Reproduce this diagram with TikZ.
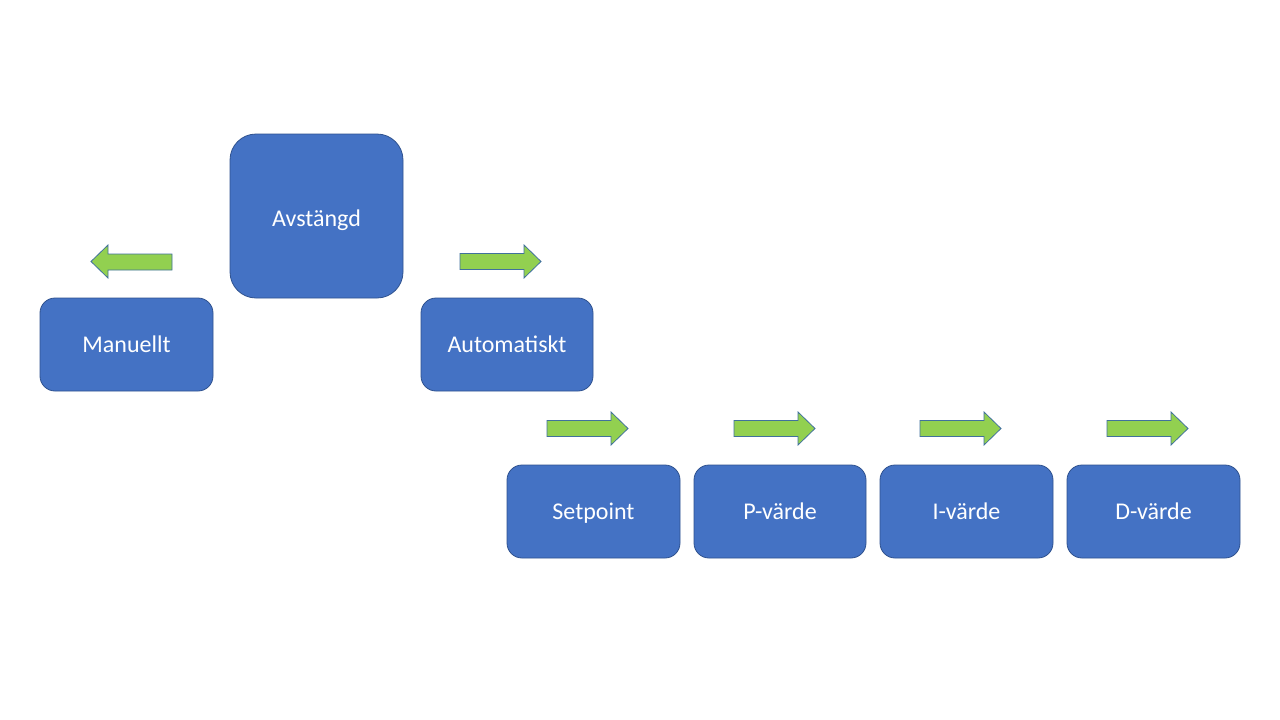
\documentclass[tikz,border=0pt]{standalone}
\usepackage{fontspec}
\setmainfont{Carlito}
\definecolor{boxfill}{HTML}{4472C4}
\definecolor{boxline}{HTML}{2F528F}
\definecolor{arrfill}{HTML}{92D050}
\definecolor{arrline}{HTML}{41719C}
\begin{document}
\begin{tikzpicture}[x=1pt,y=-1pt,
  blk/.style={draw=boxline, fill=boxfill, line width=0.8pt, rounded corners=15pt},
  lbl/.style={text=white, anchor=base, inner sep=0pt, font=\fontsize{24}{28}\selectfont},
  rarr/.style={draw=arrline, fill=arrfill, line width=0.8pt}]
\useasboundingbox (0,0) rectangle (1280,720);
\fill[white] (0,0) rectangle (1280,720);
% boxes
\draw[blk, rounded corners=26pt] (230,134) rectangle (403,298);
\node[lbl] (avst) at (316.5,226) {Avstängd};
\draw[blk] (40,298) rectangle (213,391);
\node[lbl] (man) at (126.5,352.5) {Manuellt};
\draw[blk] (421,298) rectangle (593,391);
\node[lbl] (auto) at (507,352.5) {Automatiskt};
\draw[blk] (507,465) rectangle (680,558);
\node[lbl] (set) at (593.5,519.5) {Setpoint};
\draw[blk] (694,465) rectangle (866,558);
\node[lbl] (pv) at (780,519.5) {P-värde};
\draw[blk] (880,465) rectangle (1053,558);
\node[lbl] (iv) at (966.5,519.5) {I-värde};
\draw[blk] (1067,465) rectangle (1240,558);
\node[lbl] (dv) at (1153.5,519.5) {D-värde};
% block arrows
\draw[rarr] (172,254) -- (108,254) -- (108,245) -- (91,261.5) -- (108,278) -- (108,270) -- (172,270) -- cycle;
\foreach \x/\y in {460/261.5, 547/428.5, 734/428.5, 920/428.5, 1107/428.5}{
  \draw[rarr] (\x,\y-8) -- (\x+64,\y-8) -- (\x+64,\y-16.5) -- (\x+81,\y) -- (\x+64,\y+16.5) -- (\x+64,\y+8) -- (\x,\y+8) -- cycle;
}
\end{tikzpicture}
\end{document}
